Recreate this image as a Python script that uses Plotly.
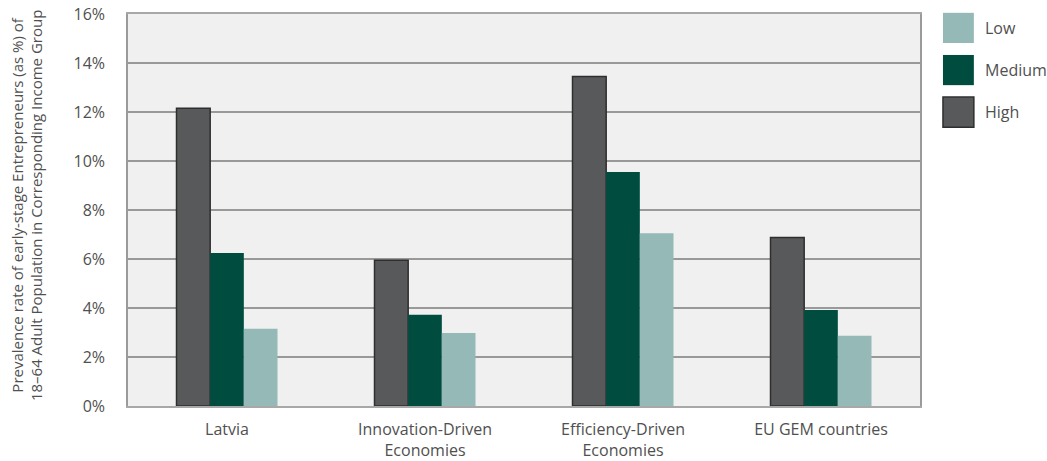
import plotly.graph_objects as go

# Prevalence of early-stage entrepreneurs by income group (%)
categories = ["Latvia", "Innovation-Driven<br>Economies", "Efficiency-Driven<br>Economies", "EU GEM countries"]
high = [12.15, 5.95, 13.45, 6.88]
medium = [6.25, 3.72, 9.55, 3.92]
low = [3.15, 2.98, 7.05, 2.87]

series = [
    ("High", high, "#58595b", dict(color="#2e2e2e", width=1.5)),
    ("Medium", medium, "#004d40", dict(width=0)),
    ("Low", low, "#94b9b6", dict(width=0)),
]

y_ticks = [0, 2, 4, 6, 8, 10, 12, 14, 16]
y_tick_labels = [f"{v}%" for v in y_ticks]

font_family = "Open Sans, Lato, sans-serif"
text_color = "#505050"

fig = go.Figure()
for name, values, color, line in series:
    fig.add_trace(go.Bar(
        x=categories, y=values, name=name,
        marker=dict(color=color, line=line),
        showlegend=False,
    ))

# Legend drawn as large swatches on the right
legend_items = [("Low", "#94b9b6", None), ("Medium", "#004d40", None), ("High", "#58595b", "#2e2e2e")]
sw_x0, sw_x1 = 1.029, 1.068
row_top, row_h, sw_h = 1.003, 0.1075, 0.077
for i, (name, color, edge) in enumerate(legend_items):
    y1 = row_top - i * row_h
    y0 = y1 - sw_h
    fig.add_shape(type="rect", xref="paper", yref="paper",
                  x0=sw_x0, x1=sw_x1, y0=y0, y1=y1,
                  fillcolor=color,
                  line=dict(color=edge if edge else color, width=1.5 if edge else 0))
    fig.add_annotation(xref="paper", yref="paper", x=1.0795, y=(y0 + y1) / 2,
                       text=name, showarrow=False, xanchor="left", yanchor="middle",
                       font=dict(family=font_family, size=16, color=text_color))

# Y axis title as two rotated lines
fig.add_annotation(xref="paper", yref="paper", x=-0.1275, y=0.51,
                   text="Prevalence rate of early-stage Entrepreneurs (as %) of<br>18–64 Adult Population in Corresponding Income Group",
                   textangle=-90, showarrow=False, xanchor="center", yanchor="middle",
                   font=dict(family=font_family, size=15, color=text_color))

fig.update_layout(
    width=1047, height=461,
    margin=dict(l=128, r=127, t=14, b=55, autoexpand=False),
    paper_bgcolor="white",
    plot_bgcolor="#f0f0f0",
    barmode="group",
    bargap=0.49,
    bargroupgap=0,
    font=dict(family=font_family, size=16, color=text_color),
    showlegend=False,
)
fig.update_xaxes(
    automargin=False,
    showline=True, linecolor="#a8a8a8", linewidth=1.5, mirror=True,
    showgrid=False, ticks="", ticklabelstandoff=8,
    tickfont=dict(size=16, color=text_color),
)
fig.update_yaxes(
    automargin=False,
    range=[0, 16], tickvals=y_ticks, ticktext=y_tick_labels,
    showgrid=True, gridcolor="#999999", gridwidth=1.5,
    showline=True, linecolor="#9a9a9a", linewidth=1.5, mirror=True,
    zeroline=False, ticks="", ticklabelstandoff=18,
    tickfont=dict(size=16, color=text_color),
)

fig.write_html("out.html")
